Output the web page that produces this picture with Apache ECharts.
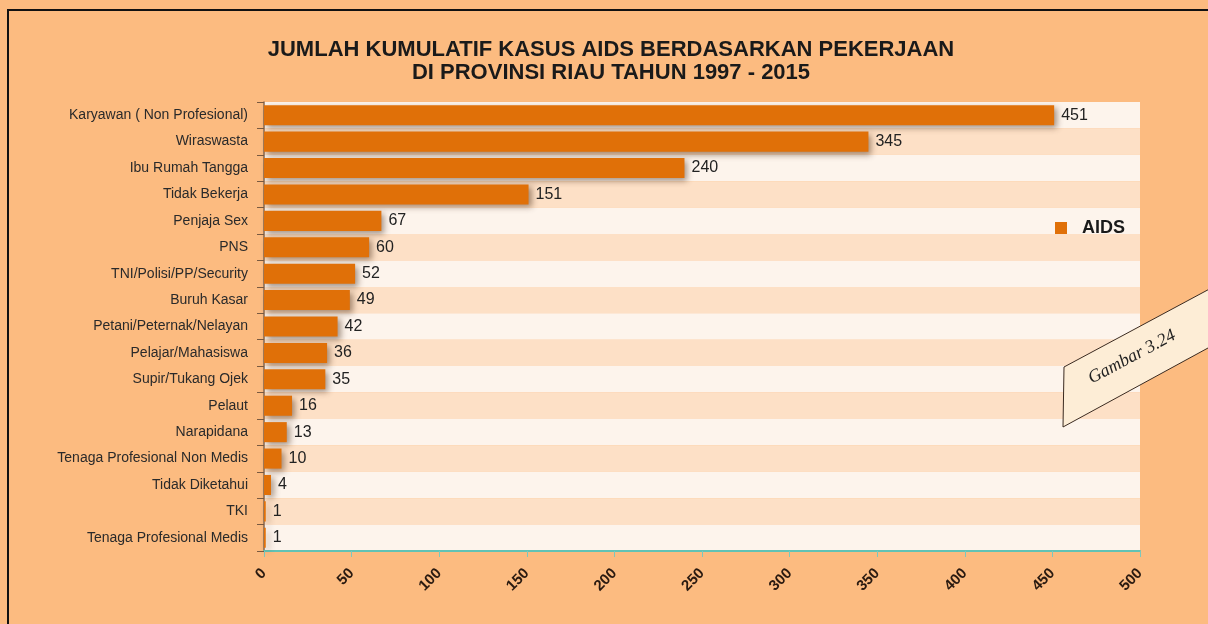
<!DOCTYPE html>
<html lang="id">
<head>
    <meta charset="UTF-8">
    <title>Kasus AIDS berdasarkan pekerjaan</title>
    <script src="https://cdn.jsdelivr.net/npm/echarts@6/dist/echarts.min.js"></script>
    <style>
        html, body { margin: 0; padding: 0; background: #fcbb80; }
        #chart { width: 1208px; height: 624px; }
    </style>
</head>
<body>
    <div id="chart"></div>
    <script type="text/javascript">
        // data (atas ke bawah)
        var categories = [
            'Karyawan ( Non Profesional)', 'Wiraswasta', 'Ibu Rumah Tangga', 'Tidak Bekerja',
            'Penjaja Sex', 'PNS', 'TNI/Polisi/PP/Security', 'Buruh Kasar',
            'Petani/Peternak/Nelayan', 'Pelajar/Mahasiswa', 'Supir/Tukang Ojek', 'Pelaut',
            'Narapidana', 'Tenaga Profesional Non Medis', 'Tidak Diketahui', 'TKI',
            'Tenaga Profesional Medis'
        ];
        var aidsValues = [451, 345, 240, 151, 67, 60, 52, 49, 42, 36, 35, 16, 13, 10, 4, 1, 1];
        var xTicks = [0, 50, 100, 150, 200, 250, 300, 350, 400, 450, 500];

        var font = 'Liberation Sans, Arial, sans-serif';
        var chart = echarts.init(document.getElementById('chart'));

        chart.setOption({
            backgroundColor: '#fcbb80',
            animation: false,
            title: {
                text: 'JUMLAH KUMULATIF KASUS AIDS BERDASARKAN PEKERJAAN\nDI PROVINSI RIAU TAHUN 1997 - 2015',
                left: 606,
                textAlign: 'center',
                top: 33,
                textStyle: {
                    fontFamily: font,
                    fontSize: 22,
                    fontWeight: 'bold',
                    color: '#1a1a1a',
                    lineHeight: 23
                }
            },
            legend: {
                data: ['AIDS'],
                left: 1050,
                top: 214,
                itemWidth: 12,
                itemHeight: 12,
                itemGap: 8,
                icon: 'rect',
                textStyle: {
                    fontFamily: font, fontSize: 18, fontWeight: 'bold', color: '#1a1a1a',
                    padding: [0, 0, 0, 10]
                }
            },
            grid: { left: 264, right: 68, top: 102, bottom: 73, containLabel: false },
            xAxis: {
                type: 'value',
                min: xTicks[0],
                max: xTicks[xTicks.length - 1],
                interval: 50,
                axisLine: { show: true, lineStyle: { color: '#62c2b4', width: 2 } },
                axisTick: { show: true, length: 6, lineStyle: { color: '#7cc8bd' } },
                splitLine: { show: false },
                axisLabel: {
                    rotate: 45,
                    margin: 20,
                    fontFamily: font,
                    fontSize: 15,
                    fontWeight: 'bold',
                    color: '#2a1a10'
                }
            },
            yAxis: {
                type: 'category',
                data: categories,
                inverse: true,
                axisLine: { show: true, lineStyle: { color: '#8a6a50', width: 1.5 } },
                axisTick: { show: true, length: 7, alignWithLabel: false, lineStyle: { color: '#7a5a40' } },
                axisLabel: {
                    margin: 16,
                    fontFamily: font,
                    fontSize: 14,
                    color: '#2a2a2a'
                },
                splitArea: {
                    show: true,
                    areaStyle: { color: ['#fdf4ec', '#fde0c6'] }
                }
            },
            series: [{
                name: 'AIDS',
                type: 'bar',
                data: aidsValues,
                barCategoryGap: '24%',
                itemStyle: {
                    color: '#e07008',
                    shadowColor: 'rgba(60,30,10,0.45)',
                    shadowBlur: 6,
                    shadowOffsetX: 3,
                    shadowOffsetY: 3
                },
                label: {
                    show: true,
                    position: 'right',
                    distance: 7,
                    fontFamily: font,
                    fontSize: 16,
                    color: '#222'
                }
            }],
            graphic: [
                {
                    type: 'rect',
                    z: 100,
                    shape: { x: 8, y: 10, width: 1220, height: 640 },
                    style: { fill: 'none', stroke: '#111', lineWidth: 2 },
                    silent: true
                },
                {
                    type: 'polygon',
                    z: 100,
                    shape: { points: [[1064, 367], [1230, 278], [1230, 336], [1063, 427]] },
                    style: { fill: '#fdedd6', stroke: '#3a2a20', lineWidth: 1 },
                    silent: true
                },
                {
                    type: 'text',
                    z: 101,
                    x: 1132,
                    y: 357,
                    rotation: 0.49,
                    style: {
                        text: 'Gambar 3.24',
                        fontFamily: 'Liberation Serif, serif',
                        fontStyle: 'italic',
                        fontSize: 18,
                        fill: '#222',
                        align: 'center',
                        verticalAlign: 'middle'
                    },
                    silent: true
                }
            ]
        });
    </script>
</body>
</html>
